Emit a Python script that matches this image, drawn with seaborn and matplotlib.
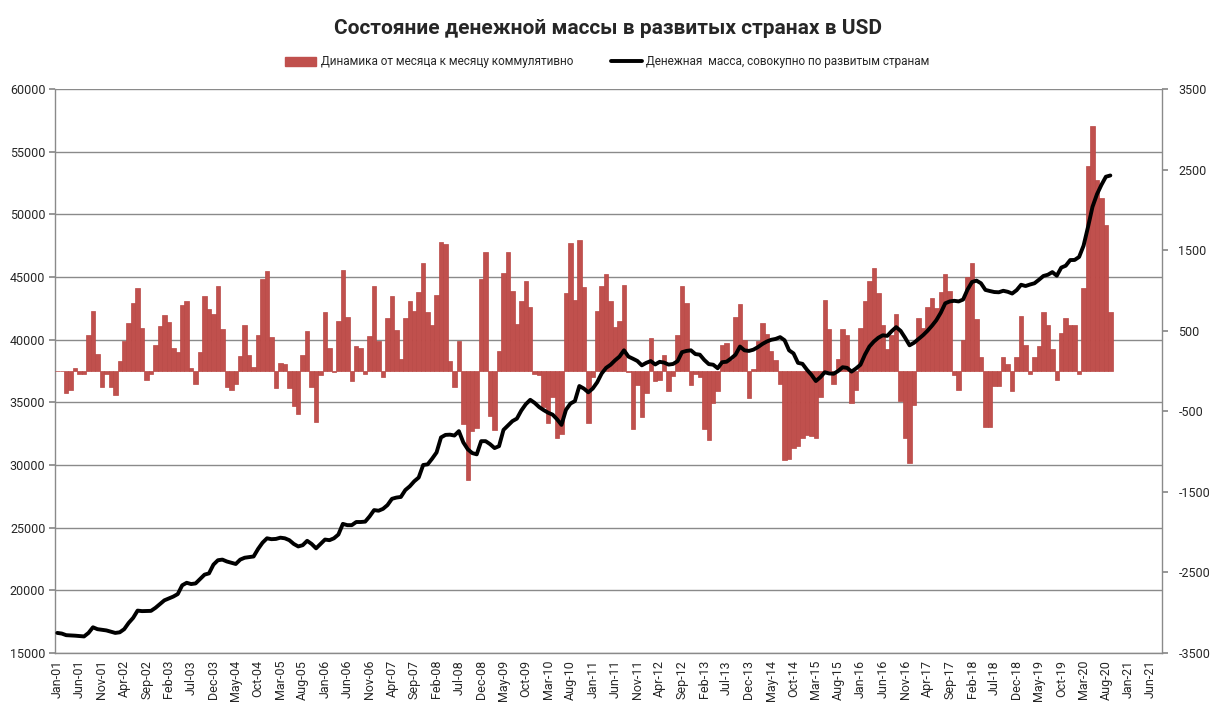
import numpy as np
import pandas as pd
import matplotlib
matplotlib.use("Agg")
import matplotlib.pyplot as plt
import seaborn as sns
from matplotlib.patches import Patch
from matplotlib.lines import Line2D

sns.set_theme(style="white")
plt.rcParams["font.family"] = ["Roboto", "DejaVu Sans"]

# помесячная динамика (правая ось), Jan-01 .. Sep-20
change = [
    0, 0, -275, -230, 37, -40, -35, 450, 748, 211,
    -193, -40, -193, -294, 119, 372, 597, 840, 1033, 532,
    -110, -40, 326, 555, 689, 610, 280, 234, 817, 872,
    37, -156, 234, 932, 771, 702, 1056, 519, -193, -239,
    -156, 184, 574, 197, 50, 450, 1140, 1244, 427, -216,
    96, 83, -216, -431, -537, 197, 496, -202, -629, -55,
    735, 280, -9, 620, 1253, 670, -124, 312, 280, -41,
    436, 1056, 372, -78, 656, 932, 510, 152, 656, 863,
    739, 978, 1336, 735, 565, 946, 1598, 1575, 119, -193,
    367, -652, -1350, -744, -707, 1139, 1483, -560, -735, 243,
    1221, 1483, 992, 588, 863, 1116, 794, -32, -46, -445,
    -643, -321, -826, -781, 964, 1584, 886, 1630, 1038, -643,
    -78, 748, 1056, 1208, 863, 551, 624, 1070, -9, -721,
    -170, -569, -271, 404, -124, -110, 197, -248, -64, 450,
    1056, 840, -170, -41, -69, -721, -859, -399, -248, 326,
    349, 142, 670, 826, 381, -331, 28, 372, 601, 464,
    243, 142, -161, -1111, -1088, -950, -930, -826, -790, -813,
    -826, -321, 877, 519, -156, 152, 519, 450, -399, -239,
    533, 863, 1116, 1276, 964, 574, 275, 441, 712, -376,
    -836, -1143, -422, 656, 533, 794, 909, 781, 978, 1208,
    987, -46, -230, 390, 1162, 1336, 643, 174, -698, -698,
    -184, -184, 174, 83, -253, 174, 680, 326, -32, 174,
    312, 735, 574, 275, -110, 473, 656, 574, 574, -41,
    1033, 2539, 3044, 2369, 2149, 1818, 735,
]

# денежная масса (левая ось)
money = [
    16600, 16550, 16420, 16400, 16380, 16350, 16320, 16600, 17050, 16900,
    16850, 16800, 16700, 16600, 16650, 16900, 17400, 17800, 18380, 18340,
    18350, 18360, 18600, 18900, 19200, 19350, 19500, 19700, 20400, 20600,
    20500, 20550, 20900, 21250, 21350, 22050, 22400, 22450, 22300, 22200,
    22100, 22450, 22600, 22650, 22700, 23300, 23800, 24150, 24080, 24100,
    24200, 24150, 24000, 23700, 23500, 23600, 23950, 23700, 23350, 23700,
    24050, 24000, 24150, 24450, 25300, 25200, 25200, 25450, 25450, 25480,
    25900, 26400, 26350, 26500, 26800, 27300, 27400, 27450, 28000, 28300,
    28700, 29000, 30000, 30050, 30500, 31000, 32200, 32400, 32420, 32350,
    32700, 31800, 31250, 30950, 30850, 31900, 31900, 31660, 31350, 31500,
    32800, 33150, 33500, 33700, 34350, 34850, 35200, 34950, 34620, 34380,
    34170, 34020, 33650, 33200, 34400, 34900, 35100, 36300, 36100, 35800,
    36100, 36600, 37300, 37750, 38000, 38350, 38650, 39150, 38650, 38480,
    38300, 37950, 38150, 38290, 38020, 38230, 38170, 38010, 38060, 38280,
    39000, 39100, 39150, 38850, 38800, 38380, 38050, 38000, 37720, 38200,
    38240, 38500, 38800, 39450, 39150, 39100, 39200, 39400, 39650, 39850,
    39990, 40060, 40200, 39950, 39150, 38900, 38150, 38070, 37600, 37200,
    36700, 37000, 37400, 37300, 37280, 37500, 37800, 37750, 37450, 37700,
    38000, 38800, 39450, 39850, 40150, 40350, 40300, 40680, 41000, 40700,
    40150, 39550, 39750, 40050, 40350, 40700, 41100, 41550, 42150, 42900,
    43050, 43100, 43050, 43200, 44000, 44600, 44710, 44500, 43970, 43880,
    43800, 43780, 43900, 43820, 43680, 43950, 44380, 44280, 44400, 44500,
    44780, 45080, 45180, 45390, 45100, 45750, 45900, 46350, 46360, 46600,
    47500, 49000, 50600, 51600, 52350, 53000, 53100,
]

months = pd.date_range("2001-01-01", periods=248, freq="MS")
tick_pos = list(range(0, 248, 5))
tick_labels = [months[i].strftime("%b-%y") for i in tick_pos]
left_ticks = list(range(15000, 60001, 5000))
right_ticks = list(range(-3500, 3501, 1000))

df = pd.DataFrame({"pos": np.arange(len(change)), "change": change, "money": money})

RED = "#C0504D"
GRID = "#8A8A8A"

fig = plt.figure(figsize=(12.15, 7.12), dpi=100)
ax = fig.add_axes([0.0453, 0.0829, 0.9108, 0.7921])
ax_bar = ax.twinx()
ax_line = ax.twinx()

# столбцы
sns.barplot(data=df, x="pos", y="change", native_scale=True, width=1.0,
            color=RED, saturation=1, errorbar=None, edgecolor="#B94845",
            linewidth=0.5, ax=ax_bar)

# линия денежной массы
sns.lineplot(data=df, x="pos", y="money", color="black", linewidth=2.8,
             ax=ax_line)

ax.set_ylim(15000, 60000)
ax_line.set_ylim(15000, 60000)
ax_bar.set_ylim(-3500, 3500)
ax.set_xlim(-0.5, 247.5)

ax.set_yticks(left_ticks)
ax.set_yticklabels([str(t) for t in left_ticks])
ax_bar.set_yticks(right_ticks)
ax_bar.set_yticklabels([str(t) for t in right_ticks])
ax_line.yaxis.set_visible(False)

ax.set_xticks([p - 0.5 for p in tick_pos])
ax.set_xticklabels([""] * len(tick_pos))
ax.set_xticks(tick_pos, minor=True)
ax.set_xticklabels(tick_labels, minor=True, rotation=90)
ax.tick_params(axis="x", which="major", length=4, color=GRID, width=1)
ax.tick_params(axis="x", which="minor", length=0, labelsize=9, pad=5)
ax.tick_params(axis="y", length=4, color=GRID, labelsize=9, pad=3, left=True)
ax_bar.tick_params(axis="y", length=4, color=GRID, labelsize=9, pad=8, right=True)

ax.yaxis.grid(True, color=GRID, linewidth=1)
ax.set_axisbelow(True)

for a in (ax, ax_bar, ax_line):
    a.set_xlabel("")
    a.set_ylabel("")
    for s in a.spines.values():
        s.set_visible(False)
ax.spines["left"].set_visible(True)
ax.spines["bottom"].set_visible(True)
ax_bar.spines["right"].set_visible(True)
for s in (ax.spines["left"], ax.spines["bottom"], ax_bar.spines["right"]):
    s.set_color(GRID)
    s.set_linewidth(1)

fig.text(0.5, 1 - 28 / 712, "Состояние денежной массы в развитых странах в USD",
         ha="center", va="center", fontsize=15, fontweight="bold")

handles = [Patch(facecolor=RED, edgecolor=RED),
           Line2D([], [], color="black", linewidth=2.8)]
labels = ["Динамика от месяца к месяцу коммулятивно",
          "Денежная  масса, совокупно по развитым странам"]
fig.legend(handles, labels, loc="center", bbox_to_anchor=(0.5, 1 - 62 / 712),
           ncol=2, frameon=False, fontsize=8.5, handlelength=2.6,
           handleheight=0.8, columnspacing=3.2, handletextpad=0.4)

fig.savefig("out.png", dpi=100)
